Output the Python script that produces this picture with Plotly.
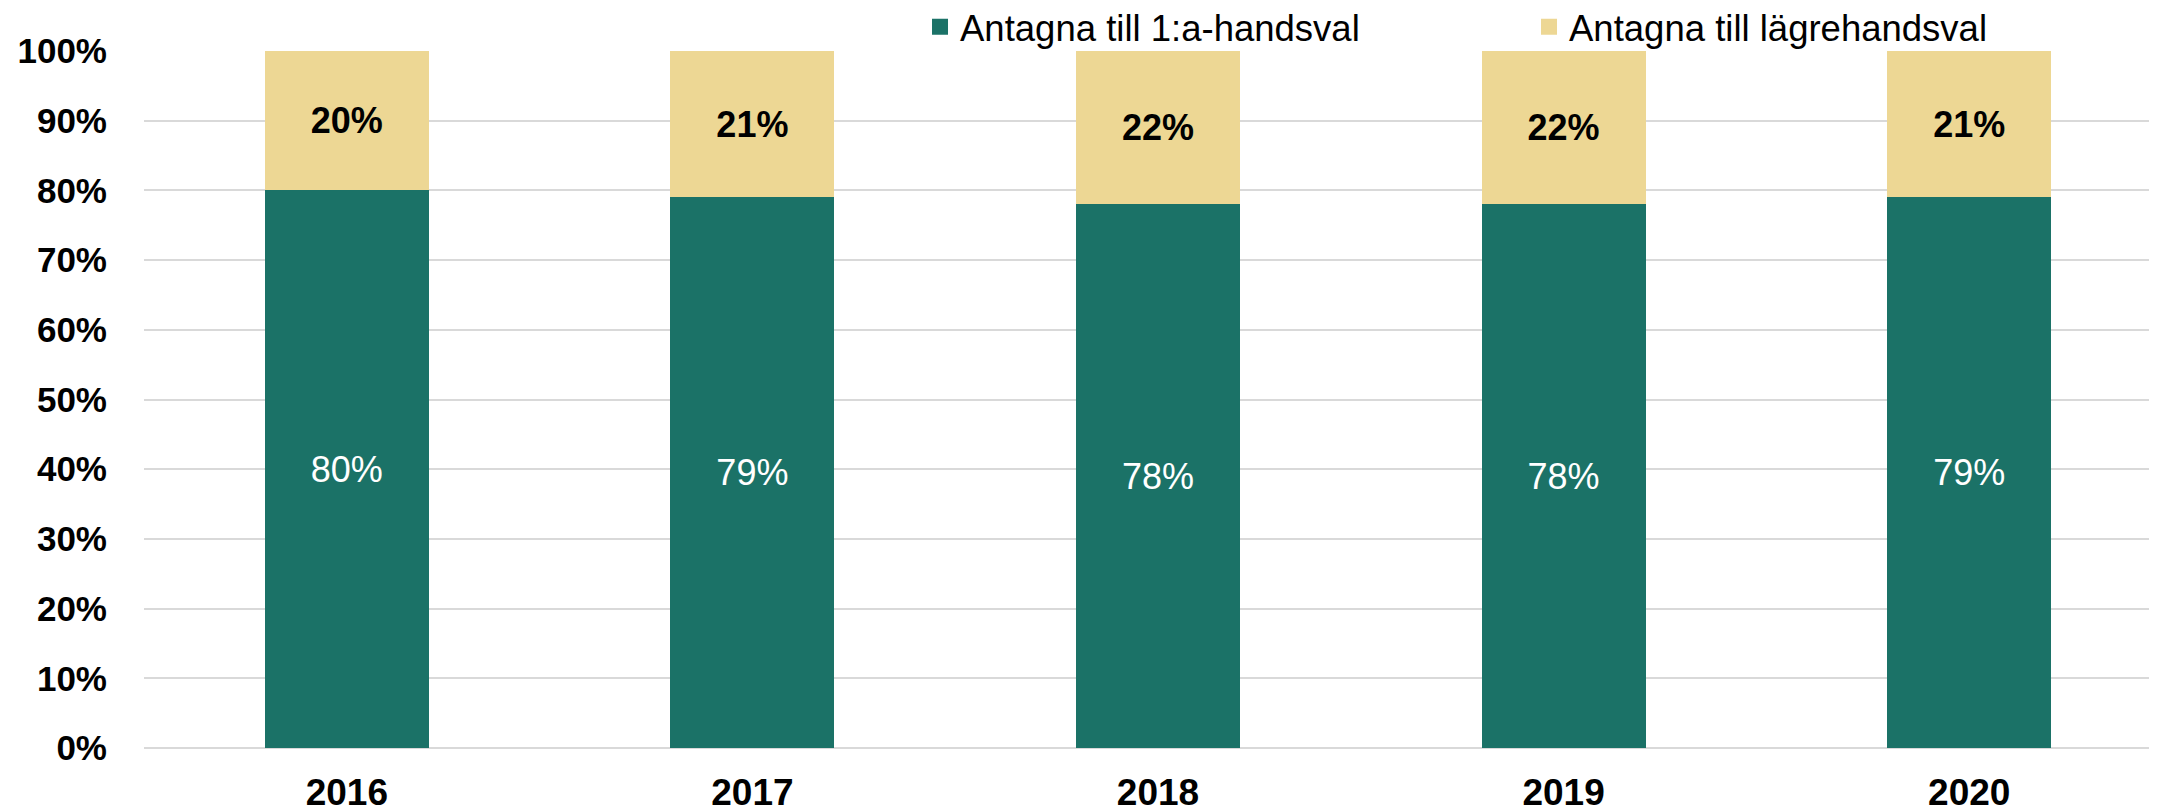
import plotly.graph_objects as go

years = ["2016", "2017", "2018", "2019", "2020"]
first_choice = [80, 79, 78, 78, 79]
lower_choice = [20, 21, 22, 22, 21]
series_names = ["Antagna till 1:a-handsval", "Antagna till lägrehandsval"]
y_ticks = list(range(0, 101, 10))
y_tick_labels = [f"{v}%" for v in y_ticks]

GREEN = "#1B7267"
TAN = "#EDD794"
FONT = "Liberation Sans"

fig = go.Figure()
fig.add_trace(go.Bar(
    x=years, y=first_choice, name=series_names[0], showlegend=False,
    legendgroup="g1",
    marker=dict(color=GREEN, line=dict(width=0)),
    text=[f"{v}%" for v in first_choice], textposition="inside",
    insidetextanchor="middle", textangle=0, constraintext="none",
    textfont=dict(family=FONT, size=36, color="white"),
))
fig.add_trace(go.Bar(
    x=years, y=lower_choice, name=series_names[1], showlegend=False,
    legendgroup="g2",
    marker=dict(color=TAN, line=dict(width=0)),
    text=[f"{v}%" for v in lower_choice], textposition="inside",
    insidetextanchor="middle", textangle=0, constraintext="none",
    textfont=dict(family=FONT, size=36, color="black", weight="bold"),
))
# legend entries with larger square swatches
for name, color, grp in [(series_names[0], GREEN, "g1"), (series_names[1], TAN, "g2")]:
    fig.add_trace(go.Scatter(
        x=[None], y=[None], mode="markers", name=name, legendgroup=grp,
        marker=dict(symbol="square", size=16, color=color),
        showlegend=True,
    ))

# page body has an 8px default margin -> figure is 8px smaller and shifted
fig.update_layout(
    width=2149, height=804,
    barmode="stack", bargap=0.596,
    plot_bgcolor="white", paper_bgcolor="white",
    margin=dict(l=136, r=0, t=43, b=64, pad=0, autoexpand=False),
    font=dict(family=FONT, color="black"),
    showlegend=True,
    legend=dict(
        orientation="h", x=0.3855, xanchor="left",
        yref="paper", y=1.0344, yanchor="middle",
        font=dict(family=FONT, size=36.5, color="black"),
        entrywidth=564, entrywidthmode="pixels",
        traceorder="normal", bgcolor="rgba(0,0,0,0)",
        itemsizing="trace",
    ),
    hovermode=False,
)
fig.update_xaxes(
    type="category", range=[-0.5, 4.463], automargin=False,
    showgrid=False, showline=False, ticks="",
    tickfont=dict(family=FONT, size=37, color="black", weight="bold"),
    ticklabelstandoff=19,
)
fig.update_yaxes(
    range=[0, 100], tickvals=y_ticks, ticktext=y_tick_labels, automargin=False,
    showgrid=True, gridcolor="#D9D9D9", gridwidth=2,
    zeroline=True, zerolinecolor="#D9D9D9", zerolinewidth=2,
    showline=False, ticks="",
    tickfont=dict(family=FONT, size=35, color="black", weight="bold"),
    ticklabelstandoff=36,
)

fig.write_html("out.html")
